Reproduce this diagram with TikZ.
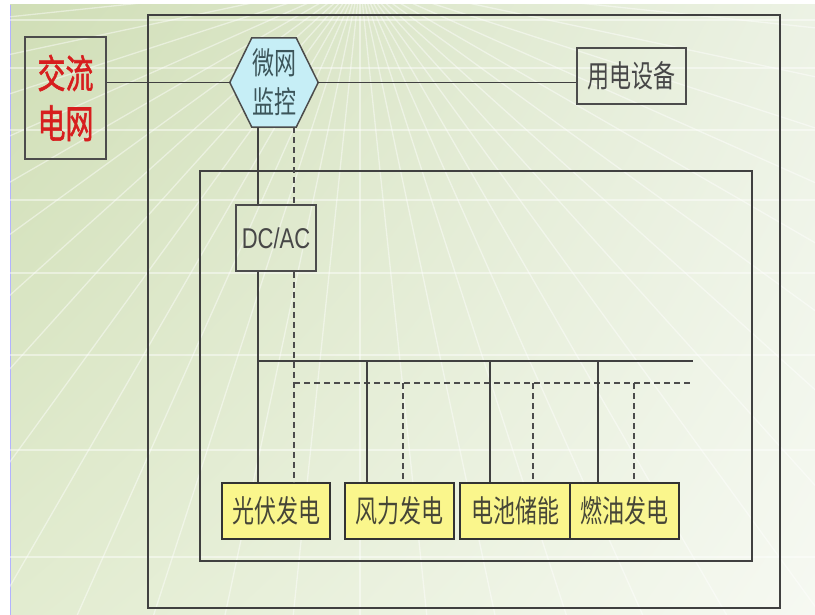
\documentclass[tikz,border=0pt]{standalone}
\usepackage{graphicx}
\usepackage{fontspec}
\usetikzlibrary{shadings}
\setmainfont{Noto Sans CJK SC}
\newfontfamily\latinsans{Liberation Sans}
\newfontfamily\redfont[FakeBold=1.6]{Noto Sans CJK SC}
\newcommand{\vstretch}[1]{\scalebox{1}[1.4]{#1}}
\definecolor{bgUL}{RGB}{208,222,182}
\definecolor{bgUR}{RGB}{236,242,228}
\definecolor{bgLL}{RGB}{226,236,208}
\definecolor{bgLR}{RGB}{246,249,242}
\definecolor{gridred}{RGB}{215,30,30}
\definecolor{hexfill}{RGB}{198,238,246}
\definecolor{hextext}{RGB}{60,85,90}
\definecolor{srcfill}{RGB}{250,246,140}
\definecolor{srctext}{RGB}{70,70,55}
\begin{document}
\begin{tikzpicture}[x=1pt,y=-1pt,
  line/.style={draw=black!75,line width=1.4pt},
  dashline/.style={draw=black!70,line width=1.1pt,dash pattern=on 6pt off 4pt},
  frame/.style={draw=black!75,line width=1.6pt},
  plainbox/.style={draw=black!70,line width=1.6pt,inner sep=0pt,font=\fontsize{22}{26}\selectfont,text=black!72},
  srcbox/.style={plainbox,fill=srcfill,draw=black!80,text=srctext},
  gridlines/.style={draw=white,line width=1.3pt,opacity=0.45}
]
\useasboundingbox (0,0) rectangle (815,615);
% background
\shade[upper left=bgUL,upper right=bgUR,lower left=bgLL,lower right=bgLR]
  (10,5) rectangle (815,615);
\draw[blue!30,line width=0.8pt] (10,5) -- (10,615);
\begin{scope}
\clip (10,5) rectangle (815,615);
\foreach \yy in {20,68,130,200,273,355,450,557}
  \draw[gridlines] (10,\yy) -- (815,\yy);
\foreach \a in {-84,-78,...,84}
  \draw[gridlines] (360,-20) -- ({360+1600*sin(\a)},{-20+1600*cos(\a)});
\end{scope}
% frames
\draw[frame] (148,15) rectangle (780,608);
\draw[frame] (200,171) rectangle (752,561);
% nodes
\node[plainbox,minimum width=81pt,minimum height=122pt,text=gridred,
  font=\redfont\fontsize{28}{50}\selectfont,align=center] (grid) at (65.5,98) {\vstretch{交流}\\\vstretch{电网}};
\node[inner sep=0pt,minimum width=88pt,minimum height=89pt] (hex) at (274,82.5) {};
\filldraw[fill=hexfill,draw=black!70,line width=1.5pt]
  (hex.west) -- ([xshift=22pt]hex.north west) -- ([xshift=-22pt]hex.north east) -- (hex.east)
  -- ([xshift=-22pt]hex.south east) -- ([xshift=22pt]hex.south west) -- cycle;
\node[align=center,font=\fontsize{22}{39}\selectfont,text=hextext] (hexlabel) at (hex.center) {\vstretch{微网}\\\vstretch{监控}};
\node[plainbox,minimum width=109pt,minimum height=56pt] (load) at (631.5,76) {\vstretch{用电设备}};
\node[plainbox,minimum width=80pt,minimum height=66pt,font=\latinsans\fontsize{22}{26}\selectfont] (dcac) at (276,238) {\scalebox{1}[1.3]{DC/AC}};
\node[srcbox,minimum width=108pt,minimum height=56pt] (pv) at (276,511) {\vstretch{光伏发电}};
\node[srcbox,minimum width=109pt,minimum height=56pt] (wind) at (399.5,511) {\vstretch{风力发电}};
\node[srcbox,minimum width=110pt,minimum height=56pt] (bat) at (515,511) {\vstretch{电池储能}};
\node[srcbox,minimum width=109pt,minimum height=56pt] (fuel) at (624.5,511) {\vstretch{燃油发电}};
% bus coordinates
\coordinate (busL) at (258,361);
\coordinate (busR) at (693,361);
\coordinate (dashL) at (294,383);
\coordinate (dashR) at (693,383);
\coordinate (w1) at (367,361);
\coordinate (b1) at (490,361);
\coordinate (f1) at (598,361);
\coordinate (w2) at (403,383);
\coordinate (b2) at (533,383);
\coordinate (f2) at (634,383);
% connectors
\draw[line] (grid.east |- hex.west) -- (hex.west);
\draw[line] (hex.east) -- (load.west |- hex.east);
\draw[line] (hex.south -| busL) -- (dcac.north -| busL);
\draw[line] (dcac.south -| busL) -- (pv.north -| busL);
\draw[dashline] (hex.south -| dashL) -- (dcac.north -| dashL);
\draw[dashline] (dcac.south -| dashL) -- (pv.north -| dashL);
\draw[line] (busL) -- (busR);
\draw[dashline] (dashL) -- (dashR);
\draw[line] (w1) -- (wind.north -| w1);
\draw[line] (b1) -- (bat.north -| b1);
\draw[line] (f1) -- (fuel.north -| f1);
\draw[dashline] (w2) -- (wind.north -| w2);
\draw[dashline] (b2) -- (bat.north -| b2);
\draw[dashline] (f2) -- (fuel.north -| f2);
\end{tikzpicture}
\end{document}
